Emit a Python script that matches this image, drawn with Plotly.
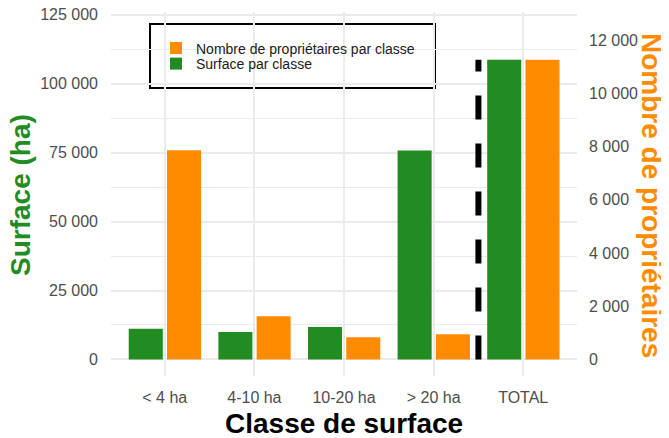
import plotly.graph_objects as go

categories = ["< 4 ha", "4-10 ha", "10-20 ha", "> 20 ha", "TOTAL"]
surface = [11100, 10000, 11800, 75800, 108700]
proprietaires = [7860, 1620, 835, 950, 11265]
left_ticks = [0, 25000, 50000, 75000, 100000, 125000]
right_ticks = [0, 2000, 4000, 6000, 8000, 10000, 12000]

GREEN = "#228B22"
ORANGE = "#FF8C00"
FONT = "Liberation Sans"
SCALE = 9.65  # secondary axis factor
OFF = 8  # page body margin
W, H = 669 - OFF, 438 - OFF
ML, MT = 111 - OFF, 12 - OFF
MR, MB = 92, 62
PW, PH = W - ML - MR, H - MT - MB
LRANGE = [-6000, 126000]


def px_x(p):
    return (p - OFF - ML) / PW


def px_y(p):
    return (H - MB - (p - OFF)) / PH


fig = go.Figure()
fig.add_trace(go.Bar(
    x=categories, y=proprietaires, name="Nombre de propriétaires par classe",
    marker=dict(color=ORANGE, line=dict(width=0)), width=0.38, offset=0.025,
    yaxis="y2", legend="legend",
))
fig.add_trace(go.Bar(
    x=categories, y=surface, name="Surface par classe",
    marker=dict(color=GREEN, line=dict(width=0)), width=0.38, offset=-0.402,
    yaxis="y", legend="legend2",
))

fig.add_shape(type="line", xref="x", yref="y", x0=3.5, x1=3.5, y0=0, y1=surface[-1],
              line=dict(color="black", width=6, dash="24px,24px"), layer="above")

# legend box
fig.add_shape(type="rect", xref="paper", yref="paper",
              x0=px_x(150), x1=px_x(435), y0=px_y(88), y1=px_y(24),
              line=dict(color="black", width=2), fillcolor="white", layer="between")

tickfont = dict(family=FONT, size=16, color="#4d4d4d")
grid = "#ebebeb"
legfont = dict(family=FONT, size=14, color="#1a1a1a")

fig.update_layout(
    template="none",
    width=W, height=H, autosize=False,
    margin=dict(l=ML, r=MR, t=MT, b=MB, pad=0, autoexpand=False),
    plot_bgcolor="white", paper_bgcolor="white",
    separators=", ",
    font=dict(family=FONT),
    barmode="overlay",
    showlegend=True,
    xaxis=dict(range=[-0.6, 4.6], showgrid=True, gridcolor=grid, gridwidth=1.5,
               tickfont=tickfont, ticks="", ticklabelstandoff=10, zeroline=False,
               showline=False, automargin=False, ticklabeloverflow="allow"),
    yaxis=dict(range=LRANGE, tickmode="array", tickvals=left_ticks, tickformat=",d",
               showgrid=True, gridcolor=grid, gridwidth=1.5, zeroline=False,
               tickfont=tickfont, ticks="", ticklabelstandoff=12, automargin=False,
               showline=False, ticklabeloverflow="allow",
               minor=dict(tickmode="linear", tick0=12500, dtick=25000, showgrid=True,
                          gridcolor=grid, gridwidth=1)),
    yaxis2=dict(range=[LRANGE[0] / SCALE, LRANGE[1] / SCALE], overlaying="y", side="right",
                tickmode="array", tickvals=right_ticks, tickformat=",d",
                showgrid=False, zeroline=False, tickfont=tickfont, ticks="",
                ticklabelstandoff=11, automargin=False, showline=False,
                ticklabeloverflow="allow"),
    legend=dict(x=px_x(156), xanchor="left", y=px_y(48.5), yanchor="middle",
                bgcolor="rgba(0,0,0,0)", borderwidth=0, font=legfont),
    legend2=dict(x=px_x(156), xanchor="left", y=px_y(64), yanchor="middle",
                 bgcolor="rgba(0,0,0,0)", borderwidth=0, font=legfont),
    annotations=[
        dict(text="<b>Surface (ha)</b>", xref="paper", yref="paper",
             x=px_x(20), y=px_y(195), textangle=-90, showarrow=False,
             xanchor="center", yanchor="middle",
             font=dict(family=FONT, size=28, color=GREEN)),
        dict(text="<b>Nombre de propriétaires</b>", xref="paper", yref="paper",
             x=px_x(652), y=px_y(195), textangle=90, showarrow=False,
             xanchor="center", yanchor="middle",
             font=dict(family=FONT, size=28, color=ORANGE)),
        dict(text="<b>Classe de surface</b>", xref="paper", yref="paper",
             x=px_x(343.5), y=px_y(423), showarrow=False,
             xanchor="center", yanchor="middle",
             font=dict(family=FONT, size=28, color="black")),
    ],
)

fig.write_html("out.html")
